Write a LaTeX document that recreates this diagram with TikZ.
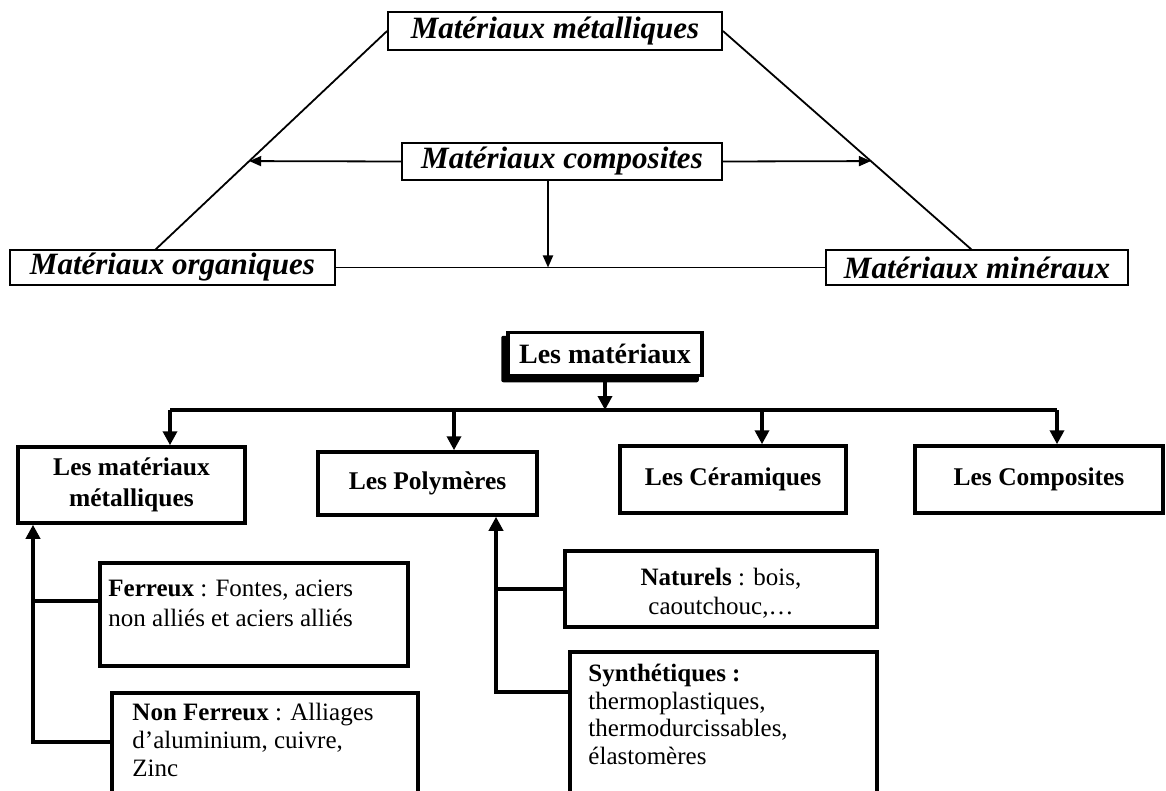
\documentclass[tikz,border=0pt]{standalone}
\usepackage{fontspec}
\setmainfont{Liberation Serif}
\usetikzlibrary{arrows.meta,calc,backgrounds}
\begin{document}
\begin{tikzpicture}[x=1pt,y=-1pt,
  % upper triangle diagram
  ibox/.style={draw,line width=1.8pt,inner sep=0pt,
    font=\fontsize{31}{34}\selectfont\bfseries\itshape},
  thin/.style={line width=1.8pt},
  tarrow/.style={thin,-{Triangle[length=12pt,width=10pt]}},
  % lower classification tree
  bigbox/.style={draw,line width=3.5pt,inner sep=0pt,align=center,
    font=\fontsize{25.5}{31}\selectfont\bfseries},
  smallbox/.style={draw,line width=3.5pt,inner sep=0pt},
  smalltxt/.style={inner sep=0pt,anchor=north west,align=left,
    font=\fontsize{25}{30}\selectfont},
  conn/.style={line width=4pt},
  barrow/.style={conn,-{Triangle[length=14pt,width=14pt]}}
]
\useasboundingbox (0,0) rectangle (1166,791);
\clip (0,0) rectangle (1166,791);

% ---- upper diagram ----
\node[ibox,minimum width=334,minimum height=38] (met) at (555,31) {Matériaux métalliques};
\node[ibox,minimum width=320,minimum height=37] (comp) at (562,161.5) {Matériaux composites};
\node[ibox,minimum width=325,minimum height=35] (org) at (172.5,267.5) {Matériaux organiques};
\node[ibox,minimum width=302,minimum height=35] (min) at (977,267.5) {Matériaux minéraux};

\coordinate (orgTop) at (155,250);
\coordinate (minTop) at (972,250);
\coordinate (midx) at (548,0);

\draw[thin] (met.west) -- (orgTop);
\draw[thin] (met.east) -- (minTop);
\draw[thin] (org.east) -- (min.west);
\draw[tarrow] (comp.west) -- ($(met.west)!0.594!(orgTop)$);
\draw[tarrow] (comp.east) -- ($(met.east)!0.594!(minTop)$);
\draw[tarrow] (comp.south -| midx) -- (org.east -| midx);

% ---- lower tree ----
\node[bigbox,minimum width=194,minimum height=43,fill=white,
  font=\fontsize{28}{31}\selectfont\bfseries] (root) at (605,354) {Les matériaux};
\begin{scope}[on background layer]
  \fill[rounded corners=2pt] ($(root.south west)+(-5,5)$) rectangle ($(root.north east)+(-5,5)$);
\end{scope}

\node[bigbox,minimum width=227,minimum height=76] (b1) at (131.5,485) {Les matériaux\\métalliques};
\node[bigbox,minimum width=219,minimum height=63] (b2) at (427.5,483.5) {Les Polymères};
\node[bigbox,minimum width=226,minimum height=67] (b3) at (733,479.5) {Les Céramiques};
\node[bigbox,minimum width=248,minimum height=67] (b4) at (1039,479.5) {Les Composites};

\coordinate (bus1) at (170,410);
\coordinate (bus2) at (454,410);
\coordinate (bus3) at (762,410);
\coordinate (bus4) at (1057,410);

\draw[conn] (bus1) -- (bus4);
\draw[barrow] (root.south) -- (root.south |- bus1);
\draw[barrow] (bus1) -- (bus1 |- b1.north);
\draw[barrow] (bus2) -- (bus2 |- b2.north);
\draw[barrow] (bus3) -- (bus3 |- b3.north);
\draw[barrow] (bus4) -- (bus4 |- b4.north);

% metals: ferrous / non-ferrous
\node[smallbox,minimum width=308,minimum height=103] (fer) at (254,614.5) {};
\node[smallbox,minimum width=306,minimum height=110] (nf) at (265,748) {};
\node[smalltxt] (ferT) at ($(fer.north west)+(10,18)$)
  {\textbf{Ferreux} : Fontes, aciers\\non alliés et aciers alliés};
\node[smalltxt,font=\fontsize{25}{28}\selectfont] (nfT) at ($(nf.north west)+(22,12)$)
  {\textbf{Non Ferreux} : Alliages\\d’aluminium, cuivre,\\Zinc};

\coordinate (ferJ) at (33,601);
\coordinate (nfJ) at (33,742);
\draw[conn] (ferJ) -- (ferJ -| fer.west);
\draw[barrow] (nfJ -| nf.west) -- (nfJ) -- (nfJ |- b1.south);

% polymers: natural / synthetic
\node[smallbox,minimum width=312,minimum height=76] (nat) at (721,589) {};
\node[smallbox,minimum width=307,minimum height=150] (syn) at (723.5,727) {};
\node[inner sep=0pt,align=center,font=\fontsize{25}{29}\selectfont] (natT)
  at ($(nat.center)+(0,4)$) {\textbf{Naturels} : bois,\\caoutchouc,…};
\node[smalltxt,font=\fontsize{25}{27.5}\selectfont] (synT) at ($(syn.north west)+(20,14)$)
  {\textbf{Synthétiques :}\\thermoplastiques,\\thermodurcissables,\\élastomères};

\coordinate (natJ) at (496,589);
\coordinate (synJ) at (496,692);
\draw[conn] (natJ) -- (natJ -| nat.west);
\draw[barrow] (synJ -| syn.west) -- (synJ) -- (synJ |- b2.south);
\end{tikzpicture}
\end{document}
